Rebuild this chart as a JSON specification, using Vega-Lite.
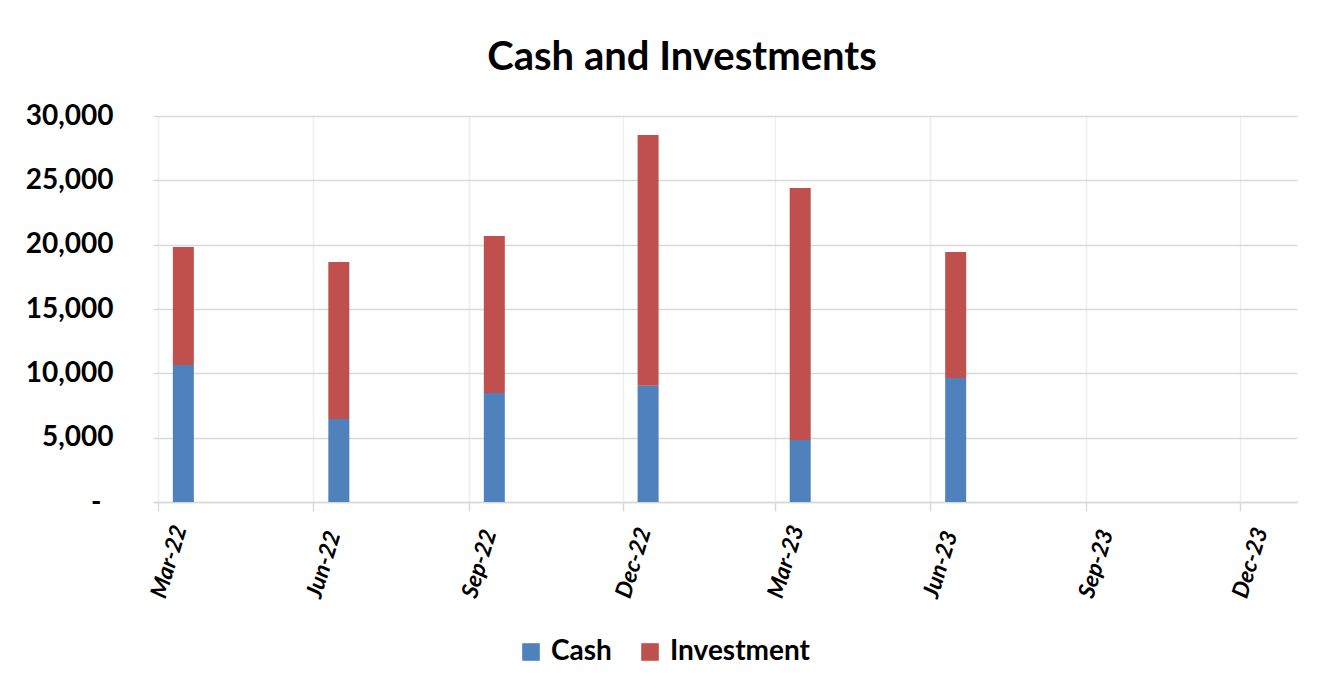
{
  "$schema": "https://vega.github.io/schema/vega-lite/v6.json",
  "autosize": "none",
  "width": 1144,
  "height": 386,
  "padding": {"left": 153, "top": 116, "right": 33, "bottom": 189},
  "background": "white",
  "config": {
    "font": "Lato",
    "view": {"stroke": null}
  },
  "title": {
    "text": "Cash and Investments",
    "fontSize": 40,
    "fontWeight": "bold",
    "color": "#000000",
    "anchor": "middle",
    "dx": -43,
    "offset": 24
  },
  "data": {
    "values": [
      {"date": "2022-03-16", "series": "Cash", "value": 10650},
      {"date": "2022-03-16", "series": "Investment", "value": 9170},
      {"date": "2022-06-16", "series": "Cash", "value": 6450},
      {"date": "2022-06-16", "series": "Investment", "value": 12200},
      {"date": "2022-09-16", "series": "Cash", "value": 8470},
      {"date": "2022-09-16", "series": "Investment", "value": 12200},
      {"date": "2022-12-16", "series": "Cash", "value": 9040},
      {"date": "2022-12-16", "series": "Investment", "value": 19480},
      {"date": "2023-03-16", "series": "Cash", "value": 4820},
      {"date": "2023-03-16", "series": "Investment", "value": 19580},
      {"date": "2023-06-16", "series": "Cash", "value": 9640},
      {"date": "2023-06-16", "series": "Investment", "value": 9790}
    ]
  },
  "mark": {"type": "bar", "width": 21},
  "encoding": {
    "x": {
      "field": "date",
      "type": "temporal",
      "scale": {
        "type": "utc",
        "domain": [
          {"year": 2022, "month": 3, "date": 1, "utc": true},
          {"year": 2024, "month": 1, "date": 1, "utc": true}
        ]
      },
      "axis": {
        "title": null,
        "values": [
          {"year": 2022, "month": 3, "date": 1, "utc": true},
          {"year": 2022, "month": 6, "date": 1, "utc": true},
          {"year": 2022, "month": 9, "date": 1, "utc": true},
          {"year": 2022, "month": 12, "date": 1, "utc": true},
          {"year": 2023, "month": 3, "date": 1, "utc": true},
          {"year": 2023, "month": 6, "date": 1, "utc": true},
          {"year": 2023, "month": 9, "date": 1, "utc": true},
          {"year": 2023, "month": 12, "date": 1, "utc": true}
        ],
        "format": "%b-%y",
        "labelAngle": -73,
        "labelAlign": "left",
        "labelBaseline": "middle",
        "labelPadding": 86,
        "labelFontSize": 23,
        "labelFontWeight": "bold",
        "labelFontStyle": "italic",
        "labelColor": "#000000",
        "labelOverlap": false,
        "labelFlush": false,
        "grid": true,
        "gridColor": "#eeeeee",
        "gridWidth": 1.5,
        "domainColor": "#d9d9d9",
        "domainWidth": 1.5,
        "tickColor": "#d9d9d9",
        "tickWidth": 1.5,
        "tickSize": 9
      }
    },
    "y": {
      "field": "value",
      "type": "quantitative",
      "aggregate": "sum",
      "stack": "zero",
      "scale": {"domain": [0, 30000], "nice": false},
      "axis": {
        "title": null,
        "values": [0, 5000, 10000, 15000, 20000, 25000, 30000],
        "labelExpr": "datum.value == 0 ? '-' : format(datum.value, ',')",
        "labelFontSize": 28,
        "labelFontWeight": "bold",
        "labelColor": "#000000",
        "labelPadding": {"condition": {"test": "datum.value == 0", "value": 52}, "value": 40},
        "domain": false,
        "ticks": false,
        "grid": true,
        "gridColor": "#d9d9d9",
        "gridWidth": 1.5
      }
    },
    "color": {
      "field": "series",
      "type": "nominal",
      "scale": {"domain": ["Cash", "Investment"], "range": ["#4F81BD", "#C0504D"]},
      "legend": {
        "title": null,
        "orient": "none",
        "direction": "horizontal",
        "legendX": 364,
        "legendY": 522,
        "symbolType": "square",
        "symbolSize": 310,
        "symbolStrokeWidth": 0,
        "symbolOpacity": 1,
        "labelFontSize": 28,
        "labelFontWeight": "bold",
        "labelColor": "#000000",
        "labelOffset": 6,
        "columnPadding": 24
      }
    },
    "order": {"field": "series", "sort": "ascending"}
  }
}
